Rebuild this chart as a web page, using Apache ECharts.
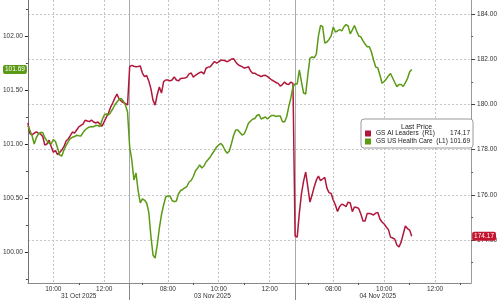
<!DOCTYPE html>
<html><head><meta charset="utf-8">
<script src="https://cdn.jsdelivr.net/npm/echarts@6/dist/echarts.min.js"></script>
<style>html,body{margin:0;padding:0;background:#fff}#c{width:500px;height:300px}</style>
</head><body><div id="c"></div>
<script>
// ---- categories / sessions ----
const dayLabels = ['31 Oct 2025', '03 Nov 2025', '04 Nov 2025'];
const sessionOpen = ['09:00', '06:30', '06:30'];
const sessionClose = ['13:00', '13:00', '13:00'];
const axisEndTime = '13:25';
const stepMinutes = 5;
const majorTimeLabels = [['10:00', '12:00'], ['08:00', '10:00', '12:00'], ['08:00', '10:00', '12:00']];
const minorTimeLabels = [['11:00'], ['07:00', '09:00', '11:00'], ['07:00', '09:00', '11:00', '13:00']];

// ---- value axis ticks ----
const leftTicks = [100, 100.5, 101, 101.5, 102];
const leftMinorTicks = [99.75, 100.25, 100.75, 101.25, 101.75, 102.25];
const leftRange = [99.713, 102.333];
const rightTicks = [174, 176, 178, 180, 182, 184];
const rightMinorTicks = [173, 175, 177, 179, 181, 183];
const rightRange = [172.1, 184.62];

// ---- series names ----
const aiName = 'GS AI Leaders  (R1)';
const hcName = 'GS US Health Care  (L1)';

// ---- GS US Health Care (left axis), 5-min steps per session ----
const healthCareOct31 = [101.167,101.125,101.074,101.000,101.060,101.093,101.106,101.106,101.058,101.028,
  101.006,101.000,101.042,101.023,100.963,100.898,100.889,100.944,100.986,101.019,
  101.051,101.062,101.069,101.081,101.076,101.074,101.106,101.130,101.146,101.157,
  101.160,101.160,101.171,101.171,101.162,101.222,101.269,101.278,101.269,101.292,
  101.324,101.361,101.389,101.412,101.421,101.398,101.361,101.296];
const healthCareNov03 = [100.972,100.852,100.667,100.731,100.565,100.454,100.491,100.481,100.454,100.370,
  100.148,99.972,99.944,100.065,100.222,100.347,100.435,100.509,100.519,100.519,
  100.477,100.466,100.472,100.537,100.569,100.579,100.593,100.606,100.648,100.662,
  100.699,100.750,100.775,100.806,100.778,100.796,100.833,100.856,100.880,100.912,
  100.940,100.972,100.991,101.005,100.981,100.940,100.914,100.935,101.005,101.079,
  101.130,101.130,101.106,101.083,101.093,101.139,101.192,101.213,101.229,101.236,
  101.264,101.273,101.231,101.241,101.250,101.231,101.250,101.264,101.264,101.255,
  101.259,101.259,101.208,101.204,101.250,101.343,101.426,101.528];
const healthCareNov04 = [101.556,101.556,101.685,101.574,101.472,101.463,101.639,101.792,101.806,101.799,
  101.829,102.000,102.097,102.086,101.935,101.944,101.968,102.000,102.083,102.037,
  102.046,102.060,102.046,102.083,102.106,102.093,102.019,102.056,102.097,102.046,
  102.000,101.991,101.954,101.926,101.901,101.901,101.852,101.778,101.713,101.704,
  101.639,101.562,101.579,101.602,101.630,101.653,101.611,101.569,101.531,101.551,
  101.551,101.532,101.569,101.606,101.667,101.690];

// ---- GS AI Leaders (right axis) ----
const aiLeadersOct31 = [179.18,178.71,178.65,178.73,178.78,178.73,178.69,178.58,178.20,178.25,
  178.42,178.14,177.89,177.96,177.78,177.87,177.98,178.13,178.38,178.47,
  178.62,178.78,178.73,178.87,179.01,179.07,179.13,179.30,179.27,179.24,
  179.31,179.22,179.18,179.22,179.13,179.04,179.24,179.44,179.62,179.88,
  180.06,180.28,180.46,180.24,180.15,180.08,180.04,179.98];
const aiLeadersNov03 = [181.67,181.73,181.69,181.67,181.68,181.70,181.39,181.23,181.28,181.04,
  180.70,180.19,179.97,180.44,180.77,180.50,181.01,181.08,181.08,181.04,
  181.08,181.22,181.08,181.04,181.15,181.16,181.17,181.21,181.35,181.39,
  181.21,181.29,181.35,181.41,181.43,181.35,181.60,181.65,181.67,181.79,
  181.90,181.83,181.88,181.96,181.96,181.93,181.89,181.94,182.01,182.02,
  181.88,181.77,181.71,181.67,181.61,181.63,181.67,181.48,181.38,181.38,
  181.32,181.28,181.23,181.28,181.29,181.23,181.15,181.08,181.03,180.97,
  180.93,180.81,180.88,180.99,180.90,180.88,180.99,180.93];
const aiLeadersNov04 = [174.18,174.13,175.19,176.04,176.61,177.01,176.35,175.68,175.99,176.35,
  176.65,176.83,176.63,176.70,176.77,176.30,176.10,176.06,175.77,175.55,
  175.26,175.48,175.59,175.55,175.48,175.68,175.64,175.26,175.46,175.44,
  175.40,175.15,174.84,174.84,175.18,175.18,175.15,175.11,175.19,175.22,
  174.93,174.80,174.71,174.58,174.46,174.13,174.09,174.04,173.78,173.69,
  173.91,174.27,174.62,174.51,174.44,174.17];

// ---- build ----
const hm = s => { const p = s.split(':').map(Number); return p[0] + p[1] / 60; };
let acc = 0;
const dayOffset = sessionOpen.map((o, i) => { const off = acc; acc += hm(sessionClose[i]) - hm(o); return off; });
const pos = (d, t) => dayOffset[d] + hm(t) - hm(sessionOpen[d]);
const xMax = pos(2, axisEndTime);

const build = days => { const out = []; days.forEach((arr, d) => arr.forEach((v, i) => out.push([dayOffset[d] + i * stepMinutes / 60, v]))); return out; };
const hcData = build([healthCareOct31, healthCareNov03, healthCareNov04]);
const aiData = build([aiLeadersOct31, aiLeadersNov03, aiLeadersNov04]);
const lastHc = healthCareNov04[healthCareNov04.length - 1];
const lastAi = aiLeadersNov04[aiLeadersNov04.length - 1];

const majorPos = [], majorText = [];
majorTimeLabels.forEach((arr, d) => arr.forEach(t => { majorPos.push(pos(d, t)); majorText.push(t); }));
const minorPos = [];
minorTimeLabels.forEach((arr, d) => arr.forEach(t => minorPos.push(pos(d, t))));
const datePos = dayLabels.map((_, d) => (dayOffset[d] + pos(d, sessionClose[d])) / 2);
const sepPos = dayOffset.slice(1);
const nearest = (v, ps, ts) => { let bi = 0; ps.forEach((p, i) => { if (Math.abs(p - v) < Math.abs(ps[bi] - v)) bi = i; }); return ts[bi]; };

const font = 'Liberation Sans';
const txt = '#333';
const GREEN = '#5b9a14';
const RED = '#b0173a';
const fs = 6.5;
const xc = { type: 'value', min: 0, max: xMax, position: 'bottom', gridIndex: 0 };
const noLine = { show: false, onZero: false };

const chart = echarts.init(document.getElementById('c'), null, { renderer: 'canvas' });
chart.setOption({
  animation: false,
  backgroundColor: '#fff',
  grid: { left: 25, right: 27, top: 0, bottom: 17, containLabel: false },
  title: { text: 'Last Price', left: 401, top: 124, padding: 0,
    textStyle: { fontSize: 7, fontWeight: 'normal', color: '#222', fontFamily: font } },
  legend: {
    left: 361, top: 119, orient: 'vertical', icon: 'rect', itemWidth: 6, itemHeight: 6, itemGap: 1,
    padding: [11, 3, 3, 4], backgroundColor: '#fff', borderColor: '#9a9a9a', borderWidth: 1, borderRadius: 3,
    data: [aiName, hcName], selectedMode: false,
    formatter: name => '{n|' + name + '}{v|' + (name === aiName ? lastAi : lastHc).toFixed(2) + '}',
    textStyle: { fontSize: fs, fontFamily: font, color: '#222',
      rich: { n: { width: 74, fontSize: fs, fontFamily: font, color: '#222' },
              v: { width: 20, align: 'right', fontSize: fs, fontFamily: font, color: '#222' } } }
  },
  xAxis: [
    Object.assign({}, xc, {
      axisLine: { show: true, onZero: false, lineStyle: { color: '#8a8a8a' } },
      axisTick: { show: false, customValues: majorPos },
      axisLabel: { customValues: majorPos, formatter: v => nearest(v, majorPos, majorText), color: txt, fontSize: fs, fontFamily: font, margin: 3 },
      splitLine: { show: true, lineStyle: { color: '#c4c4c4', type: [2, 2] } }
    }),
    Object.assign({}, xc, {
      axisLine: noLine,
      axisTick: { show: true, customValues: minorPos, length: 2, lineStyle: { color: '#555' } },
      axisLabel: { show: false }, splitLine: { show: false }
    }),
    Object.assign({}, xc, {
      axisLine: noLine,
      axisTick: { show: false, customValues: datePos },
      axisLabel: { customValues: datePos, formatter: v => nearest(v, datePos, dayLabels), color: txt, fontSize: fs, fontFamily: font, margin: 10 },
      splitLine: { show: false }
    }),
    Object.assign({}, xc, {
      axisLine: noLine,
      axisTick: { show: true, customValues: sepPos, length: 17, lineStyle: { color: '#888' } },
      axisLabel: { show: false },
      splitLine: { show: true, lineStyle: { color: '#aaa', type: 'solid' } }
    })
  ],
  yAxis: [
    { type: 'value', position: 'left', min: leftRange[0], max: leftRange[1],
      axisLine: { show: true, onZero: false, lineStyle: { color: '#707070' } },
      axisTick: { show: true, customValues: leftTicks, length: 3, lineStyle: { color: '#222' } },
      axisLabel: { customValues: leftTicks, formatter: v => v.toFixed(2), color: txt, fontSize: fs, fontFamily: font, margin: 5 },
      splitLine: { show: false } },
    { type: 'value', position: 'right', min: rightRange[0], max: rightRange[1],
      axisLine: { show: true, onZero: false, lineStyle: { color: '#9a9a9a' } },
      axisTick: { show: true, customValues: rightTicks, length: 4, lineStyle: { color: '#444' } },
      axisLabel: { customValues: rightTicks, formatter: v => v.toFixed(2), color: txt, fontSize: fs, fontFamily: font, margin: 6 },
      splitLine: { show: true, lineStyle: { color: '#c4c4c4', type: [2, 2] } } },
    { type: 'value', position: 'left', min: leftRange[0], max: leftRange[1],
      axisLine: noLine,
      axisTick: { show: true, customValues: leftMinorTicks, length: 2, lineStyle: { color: '#444' } },
      axisLabel: { show: false }, splitLine: { show: false } },
    { type: 'value', position: 'right', min: rightRange[0], max: rightRange[1],
      axisLine: noLine,
      axisTick: { show: true, customValues: rightMinorTicks, length: 2, lineStyle: { color: '#666' } },
      axisLabel: { show: false }, splitLine: { show: false } },
    { type: 'value', position: 'left', min: leftRange[0], max: leftRange[1],
      axisLine: noLine, axisTick: { show: false }, splitLine: { show: false },
      axisLabel: { customValues: [lastHc], formatter: v => v.toFixed(2), color: '#fff', backgroundColor: GREEN,
        padding: [1, 2, 1, 2], borderRadius: 2, fontSize: fs, fontFamily: font, margin: 1 } },
    { type: 'value', position: 'right', min: rightRange[0], max: rightRange[1],
      axisLine: noLine, axisTick: { show: false }, splitLine: { show: false },
      axisLabel: { customValues: [lastAi], formatter: v => v.toFixed(2), color: '#fff', backgroundColor: '#c4142f',
        padding: [1, 2, 1, 2], borderRadius: 2, fontSize: fs, fontFamily: font, margin: 1 } }
  ],
  series: [
    { name: aiName, type: 'line', xAxisIndex: 0, yAxisIndex: 1, data: aiData, symbol: 'none', showSymbol: false,
      lineStyle: { color: RED, width: 1.5 }, itemStyle: { color: RED }, z: 3 },
    { name: hcName, type: 'line', xAxisIndex: 0, yAxisIndex: 0, data: hcData, symbol: 'none', showSymbol: false,
      lineStyle: { color: GREEN, width: 1.5 }, itemStyle: { color: GREEN }, z: 4 }
  ]
});
</script></body></html>
